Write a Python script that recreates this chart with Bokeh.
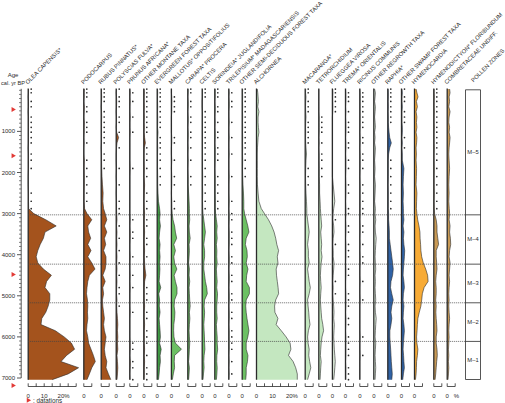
import math
from bokeh.plotting import figure
from bokeh.models import Range1d, ColumnDataSource, Label
from bokeh.core.properties import value
from bokeh.embed import file_html
from bokeh.resources import INLINE

# ---------------------------------------------------------------- data
# sample ages (cal. yr BP)
AGES = [
    -30, 60, 160, 270, 400, 520, 650,
    780, 900, 1020, 1150, 1280, 1400, 1550,
    1700, 1900, 2100, 2300, 2500, 2700, 2880,
    3000, 3150, 3300, 3450, 3600, 3750, 3900,
    4050, 4200, 4350, 4500, 4650, 4800, 4950,
    5100, 5250, 5400, 5550, 5700, 5850, 6000,
    6150, 6300, 6450, 6600, 6750, 6900, 7040,
]

# pollen percentages per taxon, one value per sample age
OLEA = [
    0.2, 0.2, 0, 0.2, 0.2, 0, 0.2,
    0.2, 0.2, 0.2, 0.2, 0.2, 0, 0.2,
    0.2, 0.2, 0, 0, 0.2, 0.2, 0.3,
    3.5, 11, 17.5, 10.5, 9.5, 7.5, 6,
    5, 6, 9.5, 14.5, 11.5, 10.5, 13.5,
    13.5, 12.5, 11, 8.5, 8, 17, 22.5,
    27, 29, 24, 20.5, 31.5, 25, 15,
]
PODOCARPUS = [
    0.3, 0.2, 0.2, 0, 0.3, 0.2, 0,
    0.3, 0.2, 0.2, 0, 0.2, 0, 0,
    0.3, 0.2, 0.3, 0.3, 0.2, 0.2, 0.5,
    2, 5, 2.5, 3, 4.3, 2.5, 4.5,
    2.5, 5, 7, 3.5, 2.5, 2, 1.7,
    2.3, 2.5, 2.3, 2.5, 2, 1.7, 2.5,
    3, 4.5, 6, 7.2, 5, 3.5, 2,
]
RUBUS = [
    0.2, 0.2, 0.3, 0.2, 0, 0.2, 0.3,
    0.2, 0.2, 0.2, 0.2, 0.2, 0, 0.2,
    0.2, 0.3, 0.5, 0.8, 1.2, 1, 1.5,
    2.5, 3.5, 2, 3.5, 2, 2.8, 1.5,
    3, 3, 2.5, 1, 2.5, 1, 1.5,
    0.8, 1, 1.5, 2, 1.5, 2, 3,
    2.5, 2, 2.5, 3.5, 3, 4.5, 6,
]
POLYSCIAS = [
    0.2, 0, 0.2, 0.3, 0.2, 0, 0.2,
    0.2, 0, 0.3, 1.5, 0.5, 0.2, 0,
    0, 0.2, 0, 0.2, 0, 0.2, 0.2,
    0.3, 0.5, 0.2, 0.5, 0.3, 0.5, 0.3,
    0.5, 0.3, 0.5, 0.3, 0.5, 0.3, 0.2,
    0.5, 0.3, 0.5, 0.8, 1, 0.8, 1,
    0.8, 1, 0.5, 0.8, 1, 0.8, 0.5,
]
PRUNUS = [
    0, 0.2, 0, 0.2, 0, 0, 0.2,
    0, 0, 0.2, 0, 0, 0, 0,
    0, 0.2, 0, 0, 0, 0, 0,
    0, 0.2, 0, 0.2, 0.2, 0, 0,
    0.2, 0, 0, 0.2, 0, 0.2, 0,
    0, 0, 0.2, 0, 0, 0, 0,
    0.2, 0.2, 0, 0.3, 0.2, 0, 0.2,
]
OTHER_MONTANE = [
    0.2, 0.3, 0.2, 0.2, 0.3, 0.2, 0.3,
    0.2, 0.3, 0.2, 0.5, 1, 0.3, 0.2,
    0.2, 0.3, 0.2, 0.5, 0.3, 0.2, 0.3,
    0.5, 0.3, 0.3, 0.5, 0.3, 0.3, 0.5,
    0.3, 0.5, 0.8, 1.3, 0.5, 0.3, 0.3,
    0.3, 0.5, 0.3, 0.3, 0.5, 0.3, 0.3,
    0.3, 0.5, 0.3, 0.5, 0.3, 0.3, 0.2,
]
EVERGREEN = [
    0.2, 0.3, 0.2, 0.2, 0.3, 0.2, 0.3,
    0.3, 0.2, 0.5, 0.3, 0.2, 0.3, 0.2,
    0.2, 0.2, 0.3, 0.3, 0.5, 0.8, 1.5,
    1.8, 1.5, 2, 1.5, 1.2, 1.8, 1.5,
    1.8, 1.5, 1.7, 1.5, 1.2, 2.2, 1,
    1.5, 1.3, 1.8, 1.2, 1.5, 1.8, 2,
    1.5, 2.5, 1.8, 2, 1.5, 1.2, 0.8,
]
MALLOTUS = [
    0, 0, 0.2, 0.3, 0.2, 0.2, 0,
    0, 0, 0, 0.2, 0.2, 0, 0,
    0.2, 0, 0.2, 0.2, 0, 0.2, 0.3,
    0.5, 1, 2, 2.5, 3.3, 1.5, 2.5,
    1.5, 2, 3.4, 1.7, 2.5, 3.5, 3.5,
    2, 1.7, 2.2, 2, 1.5, 1.4, 1.6,
    2.5, 6.3, 2, 1.8, 2, 1.2, 0.6,
]
CARAPA = [
    0.2, 0.2, 0, 0.2, 0.2, 0, 0.2,
    0.2, 0, 0.2, 0.2, 0, 0.2, 0,
    0.2, 0, 0.2, 0.2, 0.5, 0.8, 1,
    1, 1.2, 0.8, 1, 1.5, 0.8, 1,
    0.8, 0.5, 1, 0.8, 1.2, 0.8, 1,
    1.2, 1.5, 1, 1.3, 1, 0.8, 1,
    1.2, 1, 0.8, 0.5, 1, 0.8, 0.5,
]
CELTIS = [
    0.2, 0.2, 0.2, 0, 0, 0.2, 0.2,
    0.2, 0.2, 0.2, 0.2, 0.2, 0.2, 0.2,
    0.2, 0.2, 0.3, 0.2, 0.3, 0.2, 0.3,
    0.5, 1, 1.5, 2, 1.5, 1, 1.5,
    1.5, 1, 1, 1.5, 2, 2.8, 3.2,
    1.5, 1.2, 1.5, 1.3, 1, 1.2, 1.4,
    1.5, 1.7, 1.2, 1, 1.2, 0.8, 0.5,
]
SORINDEIA = [
    0.2, 0.2, 0.2, 0, 0.2, 0.2, 0,
    0.2, 0, 0.2, 0.2, 0, 0.2, 0.2,
    0.2, 0, 0.2, 0.2, 0.2, 0.3, 0.3,
    0.5, 1, 1.5, 1.2, 1.5, 1, 1.3,
    1.2, 1.5, 1, 1.2, 1.5, 1.2, 1.7,
    1.5, 1.2, 1.2, 1.5, 1, 1.2, 1.5,
    1.5, 1.8, 1.3, 1.2, 1.5, 1.3, 1,
]
TRILEPISIUM = [
    0, 0.2, 0, 0.2, 0.2, 0, 0,
    0.2, 0, 0, 0.2, 0, 0, 0.2,
    0, 0, 0.2, 0, 0, 0.2, 0,
    0.2, 0.2, 0, 0.2, 0.2, 0.2, 0,
    0.2, 0.2, 0, 0.2, 0.2, 0, 0.2,
    0.2, 0, 0.2, 0.2, 0, 0.2, 0.2,
    0.2, 0.2, 0, 0.2, 0, 0.2, 0,
]
OTHER_SEMIDECIDUOUS = [
    0.3, 0.2, 0.3, 0.2, 0.3, 0.2, 0.3,
    0.2, 0.3, 0.2, 0.3, 0.2, 0.3, 0.2,
    0.3, 0.2, 0.3, 0.5, 0.8, 1, 1,
    1.5, 2.5, 3.5, 4.2, 2.5, 2, 3,
    3.2, 2.5, 3.6, 2.8, 2.5, 4.5, 4.5,
    2.5, 2.2, 2.5, 3, 3.6, 4.2, 3.5,
    2.5, 2.5, 3.6, 3.3, 2.5, 2.5, 2.2,
]
ALCHORNEA = [
    0.5, 0.8, 1, 1.2, 0.8, 1.5, 1,
    1, 1.2, 1.5, 1, 0.8, 0.6, 0.5,
    0.5, 0.5, 0.5, 0.6, 1, 1.5, 3,
    5, 7.5, 9.5, 11, 12, 12.7, 13.8,
    13, 13.4, 12.3, 12.5, 13, 13.5, 13.8,
    12, 11.3, 11.5, 13.4, 12.3, 15.5, 18.5,
    21, 21.5, 20, 22.9, 24.5, 25.5, 25.5,
]
MACARANGA = [
    0.3, 0.2, 0.5, 0.3, 0.2, 0.3, 0.5,
    0.3, 0.2, 0.3, 0.2, 0.3, 0.5, 0.8,
    0.5, 0.3, 0.2, 0.3, 0.5, 0.8, 1,
    1, 1.5, 2, 2.5, 2, 1.5, 2,
    2, 2.5, 1.5, 2, 2.5, 3.2, 2.5,
    1.5, 1.8, 2.2, 2.5, 3, 2, 1.5,
    1.8, 2.5, 2.2, 2.8, 3.5, 2.5, 1.5,
]
TETRORCHIDIUM = [
    0, 0, 0, 0, 0, 0, 0.2,
    0.2, 0.2, 0.2, 0, 0.2, 0, 0.2,
    0.2, 0.3, 0.3, 0.5, 0.5, 0.8, 1,
    1.2, 1.5, 1.8, 1.2, 1.5, 1.8, 1.5,
    2, 1.5, 1.2, 1, 1.2, 1.5, 1.2,
    1, 1.2, 1.5, 1.8, 2.5, 3, 2,
    1.5, 1.2, 1, 1.5, 1.2, 1, 0.8,
]
FLUEGGEA = [
    0.2, 0.3, 0.2, 0.2, 0.3, 0.2, 0,
    0, 0, 0, 0, 0, 0, 0,
    0, 0, 0, 0.5, 1, 1.5, 0.8,
    0.5, 0.3, 0.8, 1, 0.5, 0.3, 0.5,
    0.5, 1, 0.8, 0.5, 0.3, 0.5, 0.3,
    0.5, 0.8, 1, 0.8, 1.2, 1, 0.8,
    1, 1.2, 1.5, 1.8, 1.5, 1.2, 0.8,
]
TREMA = [
    0, 0.2, 0.2, 0.2, 0, 0.2, 0,
    0.2, 0.2, 0.2, 0, 0.2, 0.2, 0,
    0.2, 0.2, 0, 0.2, 0.2, 0, 0.2,
    0.2, 0, 0.2, 0.2, 0, 0.2, 0.2,
    0.2, 0, 0.2, 0.2, 0, 0, 0.2,
    0.2, 0.2, 0, 0.2, 0.2, 0, 0.2,
    0.2, 0.2, 0.2, 0, 0.2, 0.2, 0.2,
]
RICINUS = [
    0, 0.2, 0.2, 0.2, 0.2, 0.2, 0.2,
    0.2, 0.2, 0, 0.2, 0.2, 0, 0.2,
    0.2, 0.2, 0, 0.2, 0.2, 0.2, 0.2,
    0.2, 0, 0.2, 0.2, 0, 0.2, 0,
    0.2, 0.2, 0, 0, 0.2, 0, 0,
    0.2, 0, 0, 0, 0, 0, 0.2,
    0, 0, 0.2, 0, 0, 0, 0,
]
OTHER_REGROWTH = [
    0.5, 1, 0.8, 0.5, 1, 0.8, 0.5,
    0.8, 1, 0.5, 0.8, 0.5, 1, 0.8,
    0.5, 0.8, 0.5, 1, 0.8, 0.5, 1,
    0.8, 1.2, 0.8, 1, 1.5, 1.2, 1,
    0.8, 1, 1.2, 0.8, 1, 0.8, 1,
    1.2, 0.8, 1, 1.5, 1.2, 1, 0.8,
    1.2, 1, 0.8, 1, 1.2, 1, 0.8,
]
RAPHIA = [
    0.2, 0.3, 0.3, 0.2, 0.3, 0.2, 0.3,
    0.3, 0.5, 0.8, 1.2, 2.2, 1.2, 0.5,
    0.3, 0.3, 0.3, 0.2, 0.3, 0.3, 0.3,
    0.5, 0.5, 0.8, 1, 1, 1.5, 2,
    2.5, 3, 3.4, 3, 2, 1.7, 2.5,
    3.4, 2.5, 2, 2.5, 2, 1.3, 1.3,
    1.5, 1.8, 2, 2.2, 2.5, 2.8, 2.5,
]
OTHER_SWAMP = [
    0.3, 0.5, 0.3, 0.3, 0.5, 0.3, 0.3,
    0.3, 0.5, 0.5, 0.3, 0.5, 0.3, 0.5,
    0.5, 1.5, 1.2, 1, 1.2, 1, 1.2,
    1.2, 1.5, 1, 1.5, 1.2, 1.5, 2,
    1.8, 1.5, 1.2, 1, 1.5, 1.8, 1.2,
    1, 1.5, 1.2, 1, 1.5, 1.8, 1.5,
    1.2, 1, 1.3, 1.5, 1.8, 1.2, 0.8,
]
HYMENOCARDIA = [
    1, 1.5, 2.2, 1.2, 1.8, 1, 1.5,
    1.2, 1.5, 1, 1.5, 1.3, 1, 1.2,
    1, 1.3, 1.2, 1, 1.5, 1.3, 1.2,
    1.5, 2, 2.8, 3.4, 3.5, 3.8, 4,
    4.5, 5.5, 7, 8.2, 8.5, 6, 4.9,
    4.5, 4, 3, 2.1, 1.8, 1.6, 1.3,
    1.5, 2.1, 1.8, 1.3, 1.2, 1, 0.6,
]
HYMENODICTYON = [
    0.2, 0.2, 0.3, 0.2, 0.2, 0.3, 0.2,
    0.2, 0.3, 0.2, 0.2, 0.2, 0.3, 0.2,
    0.2, 0.3, 0.2, 0.2, 0.3, 0.2, 0.3,
    0.5, 1.5, 2, 2, 2.5, 3, 1.5,
    1.5, 1.8, 2, 1.5, 1.2, 1.5, 1.5,
    1.2, 1.5, 1.3, 1.5, 1.8, 2, 1.5,
    1.5, 2, 2.2, 1.8, 1.5, 1.2, 0.8,
]
COMBRETACEAE = [
    1.5, 1.8, 1.2, 1.5, 1, 1.8, 1.2,
    1, 1.5, 1.2, 1.8, 1.5, 1.2, 1,
    1.2, 1.5, 1.2, 1, 1.2, 1, 1.3,
    1.5, 1.2, 1.8, 1.5, 2, 2.2, 1.5,
    1.2, 1.8, 1.5, 1.2, 1.5, 1.2, 1,
    1.2, 1, 1.2, 1.5, 1.2, 1, 1.2,
    1, 0.8, 1, 0.8, 1, 0.8, 0.5,
]

# pollen zones: boundaries (cal. yr BP) and names, youngest first
ZONE_BOUNDS = [3030, 4230, 5170, 6110]
ZONE_NAMES = ["M\u20135", "M\u20134", "M\u20133", "M\u20132", "M\u20131"]
# radiocarbon datations (cal. yr BP)
DATATIONS = [465, 1590, 4480, 7180]
AGE_TICKS = [1000, 2000, 3000, 4000, 5000, 6000, 7000]

# ---------------------------------------------------------------- styling
BROWN = "#a4531d"
DGREEN = "#3f9a43"
GREEN = "#6cc063"
LGREEN = "#c4e7c0"
PALE = "#dbe9d8"
BLUE = "#2f62a5"
ORANGE = "#f7ab36"
TAN = "#c99a55"
INK = "#2b2b2b"
FONT_NAME = "Liberation Sans"
FONT = value(FONT_NAME)

# (label, series, baseline x in px, fill colour, axis length in %)
TAXA = [
    ("OLEA CAPENSIS*", OLEA, 27.7, BROWN, 30),
    ("PODOCARPUS", PODOCARPUS, 83.3, BROWN, 5),
    ("RUBUS PINNATUS*", RUBUS, 100.7, BROWN, 5),
    ("POLYSCIAS FULVA*", POLYSCIAS, 115.7, BROWN, 5),
    ("PRUNUS AFRICANA*", PRUNUS, 129.3, BROWN, 5),
    ("OTHER MONTANE TAXA", OTHER_MONTANE, 143.3, BROWN, 5),
    ("EVERGREEN FOREST TAXA", EVERGREEN, 156.7, DGREEN, 5),
    ("MALLOTUS* OPPOSITIFOLIUS", MALLOTUS, 170.9, GREEN, 5),
    ("CARAPA* PROCERA", CARAPA, 187.3, GREEN, 5),
    ("CELTIS", CELTIS, 201.7, GREEN, 5),
    ("SORINDEIA* JUGLANDIFOLIA", SORINDEIA, 214.3, GREEN, 5),
    ("TRILEPISIUM* MADAGASCARIENSIS", TRILEPISIUM, 228.3, GREEN, 5),
    ("OTHER SEMI-DECIDUOUS FOREST TAXA", OTHER_SEMIDECIDUOUS, 241.7, GREEN, 5),
    ("ALCHORNEA", ALCHORNEA, 256.0, LGREEN, 25),
    ("MACARANGA*", MACARANGA, 304.7, LGREEN, 5),
    ("TETRORCHIDIUM", TETRORCHIDIUM, 318.3, LGREEN, 5),
    ("FLUEGGEA VIROSA", FLUEGGEA, 331.9, PALE, 5),
    ("TREMA* ORIENTALIS", TREMA, 345.0, PALE, 5),
    ("RICINUS COMMUNIS", RICINUS, 359.3, PALE, 5),
    ("OTHER REGROWTH TAXA", OTHER_REGROWTH, 373.3, PALE, 5),
    ("RAPHIA*", RAPHIA, 387.3, BLUE, 5),
    ("OTHER SWAMP FOREST TAXA", OTHER_SWAMP, 401.0, BLUE, 5),
    ("HYMENOCARDIA", HYMENOCARDIA, 414.0, ORANGE, 5),
    ("HYMENODICTYON* FLORIBUNDUM", HYMENODICTYON, 433.3, TAN, 5),
    ("COMBRETACEAE UNDIFF.", COMBRETACEAE, 446.7, TAN, 5),
]

W, H = 505, 403
Y_AGE0 = 89.8          # px position of 0 cal. yr BP
PX_PER_YR = 0.0411     # vertical scale
PX_PER_PCT = 1.6       # horizontal scale of every taxon column
AXIS_Y = 386.0         # px row of the % axes
ZONE_L, ZONE_R = 465.0, 480.0


def age_at(px):
    return (px - Y_AGE0) / PX_PER_YR


p = figure(width=W, height=H, output_backend="svg", toolbar_location=None,
           x_axis_type=None, y_axis_type=None, min_border=0,
           x_range=Range1d(0, W),
           y_range=Range1d(age_at(H), age_at(0)))
p.outline_line_color = None
p.background_fill_color = "white"
p.border_fill_color = "white"
p.extra_y_ranges = {"px": Range1d(H, 0)}

top_age = AGES[0] - 15
bot_age = AGES[-1]


def rotated_label(text, x_px, y_px):
    # slanted column heading; screen units count y from the bottom edge
    p.add_layout(Label(x=x_px, y=H - y_px, x_units="screen", y_units="screen",
                       text=text, angle=math.pi / 4, text_font=FONT_NAME,
                       text_font_size="5.8px", text_align="left",
                       text_baseline="alphabetic", text_color=INK))


# ---------------------------------------------------------------- taxon columns
for i, (label, vals, base, color, amax) in enumerate(TAXA):
    rname = f"c{i}"
    p.extra_x_ranges[rname] = Range1d(-base / PX_PER_PCT, (W - base) / PX_PER_PCT)
    src = ColumnDataSource(dict(age=AGES, v=vals))
    p.harea(x1=0, x2="v", y="age", source=src, fill_color=color,
            fill_alpha=1.0, x_range_name=rname)
    p.line(x="v", y="age", source=src, line_color=INK, line_width=0.6,
           x_range_name=rname)
    p.segment(x0=0, y0=top_age, x1=0, y1=bot_age, line_color=INK,
              line_width=1.3, x_range_name=rname)
    rare = [a for a, v in zip(AGES, vals) if 0 < v < 0.5]
    if rare:
        p.scatter(x=3.0 / PX_PER_PCT, y=rare, size=1.7, marker="circle",
                  fill_color=INK, line_color=None, x_range_name=rname)
    # % axis under the column
    p.segment(x0=0, y0=AXIS_Y, x1=amax, y1=AXIS_Y, line_color=INK,
              line_width=0.8, x_range_name=rname, y_range_name="px")
    ticks = list(range(0, amax + 1, 5))
    p.segment(x0=ticks, y0=[AXIS_Y] * len(ticks), x1=ticks,
              y1=[AXIS_Y - 3.2] * len(ticks), line_color=INK,
              line_width=0.8, x_range_name=rname, y_range_name="px")
    if amax >= 20:
        p.text(x=[0, 10], y=[395.5, 395.5], text=["0", "10"], text_font=FONT,
               text_font_size="6px", text_align="center", text_baseline="middle",
               text_color=INK, x_range_name=rname, y_range_name="px")
        p.text(x=[20 - 2.6 / PX_PER_PCT], y=[395.5], text=["20%"], text_font=FONT,
               text_font_size="6px", text_align="left", text_baseline="middle",
               text_color=INK, x_range_name=rname, y_range_name="px")
    else:
        p.text(x=[0], y=[395.5], text=["0"], text_font=FONT,
               text_font_size="6px", text_align="center", text_baseline="middle",
               text_color=INK, x_range_name=rname, y_range_name="px")
    rotated_label(label, base - 1.8, 82.5)

p.text(x=[456], y=[395.5], text=["%"], text_font=FONT, text_font_size="6px",
       text_align="center", text_baseline="middle", text_color=INK,
       y_range_name="px")

# ---------------------------------------------------------------- zones
n_b = len(ZONE_BOUNDS)
p.segment(x0=[TAXA[0][2]] * n_b, y0=ZONE_BOUNDS, x1=[ZONE_L] * n_b, y1=ZONE_BOUNDS,
          line_color="#444444", line_width=0.8, line_dash="1 1")
p.segment(x0=[ZONE_L] * n_b, y0=ZONE_BOUNDS, x1=[ZONE_R] * n_b, y1=ZONE_BOUNDS,
          line_color=INK, line_width=0.8)
p.quad(left=[ZONE_L], right=[ZONE_R], top=[89.3], bottom=[379.0], fill_color=None,
       line_color=INK, line_width=0.8, y_range_name="px")
edges = [age_at(89.3)] + ZONE_BOUNDS + [age_at(379.0)]
mids = [(a + b) / 2 for a, b in zip(edges[:-1], edges[1:])]
p.text(x=[(ZONE_L + ZONE_R) / 2] * len(mids), y=mids, text=ZONE_NAMES,
       text_font=FONT, text_font_size="5.8px", text_align="center",
       text_baseline="middle", text_color=INK)
rotated_label("POLLEN ZONES", ZONE_L + 6.5, 80.5)

# ---------------------------------------------------------------- age axis
AX_X = 20.7
p.segment(x0=[AX_X], y0=[age_at(88.3)], x1=[AX_X], y1=[7000], line_color=INK,
          line_width=0.8)
minor = [a for a in range(0, 7001, 100) if a not in AGE_TICKS]
p.segment(x0=[AX_X - 2.2] * len(minor), y0=minor, x1=[AX_X] * len(minor), y1=minor,
          line_color=INK, line_width=0.6)
p.segment(x0=[AX_X - 4.2] * len(AGE_TICKS), y0=AGE_TICKS,
          x1=[AX_X] * len(AGE_TICKS), y1=AGE_TICKS,
          line_color=INK, line_width=0.8)
p.text(x=[14.5] * len(AGE_TICKS), y=AGE_TICKS, text=[str(t) for t in AGE_TICKS],
       text_font=FONT, text_font_size="6px", text_align="right",
       text_baseline="middle", text_color=INK)
p.text(x=[12.5], y=[74.5], text=["Age"], text_font=FONT, text_font_size="6px",
       text_align="center", text_baseline="middle", text_color=INK,
       y_range_name="px")
p.text(x=[24.5], y=[82.5], text=["cal. yr BP"], text_font=FONT,
       text_font_size="5.6px", text_align="right", text_baseline="middle",
       text_color=INK, y_range_name="px")

# datation markers and their key
p.scatter(x=[12.5] * len(DATATIONS), y=DATATIONS, marker="triangle", size=5,
          angle=-math.pi / 2, fill_color="#e23a36", line_color=None)
p.scatter(x=[27.7], y=[399.8], marker="triangle", size=5, angle=-math.pi / 2,
          fill_color="#e23a36", line_color=None, y_range_name="px")
p.text(x=[32.5], y=[399.8], text=[": datations"], text_font=FONT,
       text_font_size="6.3px", text_align="left", text_baseline="middle",
       text_color=INK, y_range_name="px")

open("out.html", "w").write(file_html(p, INLINE))
